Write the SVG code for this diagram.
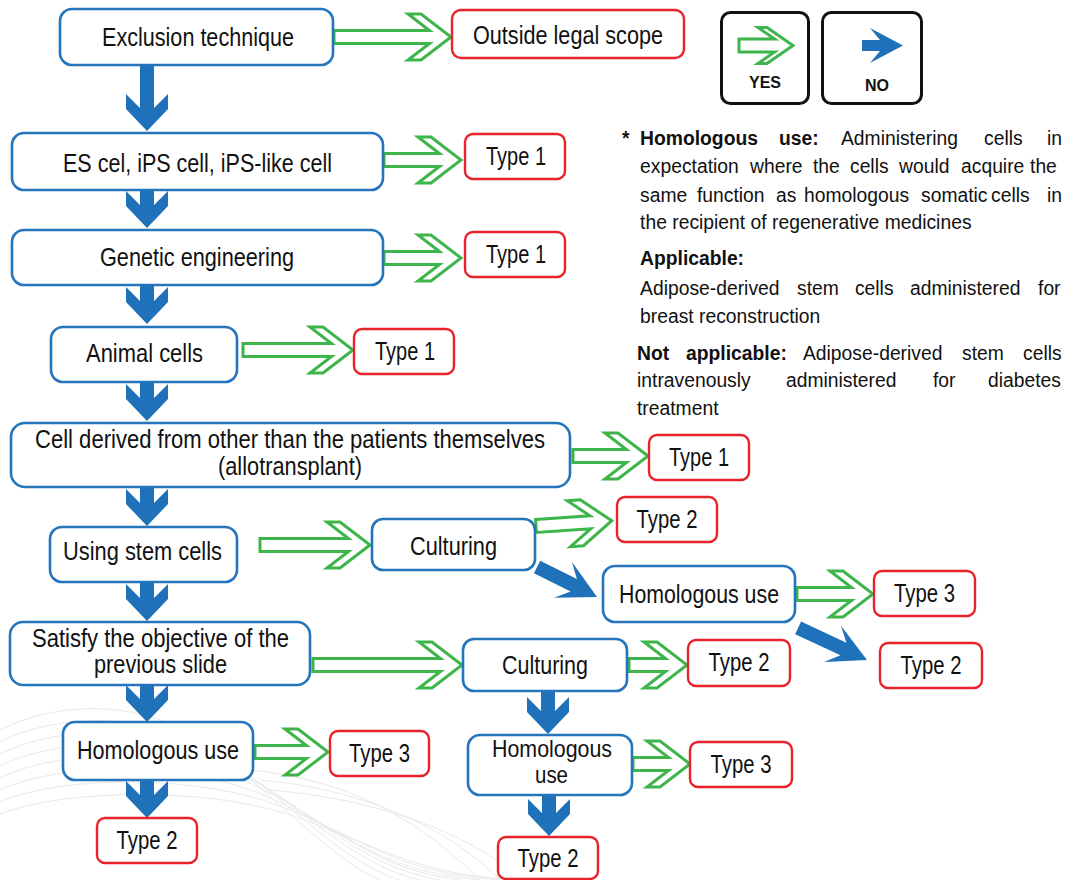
<svg xmlns="http://www.w3.org/2000/svg" width="1069" height="880" viewBox="0 0 1069 880">
<style>
.bg{fill:none;stroke:#e9e9e9;stroke-width:1}
.nb{fill:#fff;stroke:#2475bc;stroke-width:2.6}
.rb{fill:#fff;stroke:#e8232b;stroke-width:2.4}
.lg{fill:#fff;stroke:#111;stroke-width:3}
.t{font-family:"Liberation Sans",Arial,sans-serif;font-size:25px;fill:#111;text-anchor:middle}
.t2{font-size:24px}
.d{font-family:"Liberation Sans",Arial,sans-serif;font-size:21px;fill:#111}
.b{font-weight:bold}
.lt{font-family:"Liberation Sans",Arial,sans-serif;font-size:16px;font-weight:bold;fill:#111;text-anchor:middle}
.ga{fill:#fff;stroke:#3db54a;stroke-width:3;stroke-linejoin:miter}
.ba{fill:#1f72ba}
</style>
<g id="background">
<path class="bg" d="M0 730 C60 700 140 700 200 740 S330 860 380 880"/>
<path class="bg" d="M0 742 C60 712 150 712 215 752 S340 862 400 880"/>
<path class="bg" d="M0 754 C60 724 160 724 230 764 S350 864 420 880"/>
<path class="bg" d="M0 766 C60 736 170 736 245 776 S360 866 440 880"/>
<path class="bg" d="M0 778 C60 748 180 748 260 788 S370 868 460 880"/>
<path class="bg" d="M0 790 C60 762 190 760 275 800 S380 870 480 880"/>
<path class="bg" d="M0 802 C60 776 200 772 290 810 S400 872 500 880"/>
<path class="bg" d="M0 814 C60 790 210 784 305 820 S420 874 520 880"/>
<path class="bg" d="M250 770 C350 780 420 820 480 880"/>
<path class="bg" d="M260 780 C370 790 450 830 500 880"/>
<path class="bg" d="M270 790 C390 800 480 840 520 880"/>
</g>
<g id="connectors">
<polygon class="ga" points="334,30.5 429.5,30.5 408,14 421,14 451,37 421,60 408,60 429.5,43.5 334,43.5"/>
<polygon class="ga" points="384,153.5 439.5,153.5 418,137 431,137 461,160 431,183 418,183 439.5,166.5 384,166.5"/>
<polygon class="ga" points="384,251.5 439.5,251.5 418,235 431,235 461,258 431,281 418,281 439.5,264.5 384,264.5"/>
<polygon class="ga" points="243,343.5 331.5,343.5 310,327 323,327 353,350 323,373 310,373 331.5,356.5 243,356.5"/>
<polygon class="ga" points="573,449.5 626.5,449.5 605,433 618,433 648,456 618,479 605,479 626.5,462.5 573,462.5"/>
<polygon class="ga" points="260,538.5 348.5,538.5 327,522 340,522 370,545 340,568 327,568 348.5,551.5 260,551.5"/>
<polygon class="ga" transform="rotate(-4 536 526)" points="536,519.5 590.5,519.5 569,503 582,503 612,526 582,549 569,549 590.5,532.5 536,532.5"/>
<polygon class="ga" points="797,587.5 851.5,587.5 830,571 843,571 873,594 843,617 830,617 851.5,600.5 797,600.5"/>
<polygon class="ga" points="313,658.5 440.5,658.5 419,642 432,642 462,665 432,688 419,688 440.5,671.5 313,671.5"/>
<polygon class="ga" points="629,658.5 665.5,658.5 644,642 657,642 687,665 657,688 644,688 665.5,671.5 629,671.5"/>
<polygon class="ga" points="255,745.5 306.5,745.5 285,729 298,729 328,752 298,775 285,775 306.5,758.5 255,758.5"/>
<polygon class="ga" points="633,757.5 668.5,757.5 647,741 660,741 690,764 660,787 647,787 668.5,770.5 633,770.5"/>
<polygon class="ba" points="140,65 154,65 154,108 168,94 168,109 147,131 126,109 126,94 140,108"/>
<polygon class="ba" points="140,189 154,189 154,205 168,191 168,206 147,228 126,206 126,191 140,205"/>
<polygon class="ba" points="140,285 154,285 154,301 168,287 168,302 147,324 126,302 126,287 140,301"/>
<polygon class="ba" points="140,381 154,381 154,398 168,384 168,399 147,421 126,399 126,384 140,398"/>
<polygon class="ba" points="140,487 154,487 154,503 168,489 168,504 147,526 126,504 126,489 140,503"/>
<polygon class="ba" points="140,582 154,582 154,598 168,584 168,599 147,621 126,599 126,584 140,598"/>
<polygon class="ba" points="140,685 154,685 154,699 168,685 168,700 147,722 126,700 126,685 140,699"/>
<polygon class="ba" points="140,780 154,780 154,795 168,781 168,796 147,818 126,796 126,781 140,795"/>
<polygon class="ba" points="541,690 555,690 555,711 569,697 569,712 548,734 527,712 527,697 541,711"/>
<polygon class="ba" points="542,796 556,796 556,813 570,799 570,814 549,836 528,814 528,799 542,813"/>
<polygon class="ba" transform="translate(597 597) rotate(26.6)" points="-67,-7 -26,-7 -38,-20 0,0 -38,20 -26,7 -67,7"/>
<polygon class="ba" transform="translate(867 660) rotate(25)" points="-76,-7 -26,-7 -38,-20 0,0 -38,20 -26,7 -76,7"/>
</g>
<g id="legend">
<rect class="lg" x="721.5" y="12.5" width="87" height="91" rx="9"/>
<polygon class="ga" points="739,39 774.6,39 758,27.5 767,27.5 793,45.5 767,63.5 758,63.5 774.6,52 739,52"/>
<text class="lt" x="765" y="88">YES</text>
<rect class="lg" x="822.5" y="12.5" width="99" height="91" rx="9"/>
<polygon class="ba" points="862,40 880,40 870,28 903,45.5 870,63 880,51 862,51"/>
<text class="lt" x="877" y="91">NO</text>
</g>
<g id="n-exclusion"><rect class="nb" x="60" y="9" width="273" height="56" rx="12"/><text class="t" x="198" y="46" textLength="192" lengthAdjust="spacingAndGlyphs">Exclusion technique</text></g>
<g id="n-es"><rect class="nb" x="12" y="133" width="371" height="57" rx="12"/><text class="t" x="197.5" y="172" textLength="269" lengthAdjust="spacingAndGlyphs">ES cel, iPS cell, iPS-like cell</text></g>
<g id="n-genetic"><rect class="nb" x="12" y="230" width="371" height="55" rx="12"/><text class="t" x="197" y="266" textLength="194" lengthAdjust="spacingAndGlyphs">Genetic engineering</text></g>
<g id="n-animal"><rect class="nb" x="51" y="327" width="186" height="55" rx="12"/><text class="t" x="144.5" y="362" textLength="117" lengthAdjust="spacingAndGlyphs">Animal cells</text></g>
<g id="n-allo"><rect class="nb" x="11" y="423" width="559" height="64" rx="14"/><text class="t" x="290" y="448" textLength="510" lengthAdjust="spacingAndGlyphs">Cell derived from other than the patients themselves</text><text class="t" x="290" y="475" textLength="144" lengthAdjust="spacingAndGlyphs">(allotransplant)</text></g>
<g id="n-stem"><rect class="nb" x="50" y="527" width="187" height="55" rx="12"/><text class="t" x="142.5" y="560" textLength="159" lengthAdjust="spacingAndGlyphs">Using stem cells</text></g>
<g id="n-cult1"><rect class="nb" x="372" y="519" width="163" height="51" rx="11"/><text class="t" x="453.5" y="555" textLength="87" lengthAdjust="spacingAndGlyphs">Culturing</text></g>
<g id="n-homo1"><rect class="nb" x="603" y="566" width="192" height="56" rx="12"/><text class="t" x="699" y="603" textLength="160" lengthAdjust="spacingAndGlyphs">Homologous use</text></g>
<g id="n-satisfy"><rect class="nb" x="10" y="622" width="300" height="63" rx="13"/><text class="t" x="160.5" y="647" textLength="257" lengthAdjust="spacingAndGlyphs">Satisfy the objective of the</text><text class="t" x="160.5" y="673" textLength="133" lengthAdjust="spacingAndGlyphs">previous slide</text></g>
<g id="n-cult2"><rect class="nb" x="463" y="639" width="164" height="52" rx="11"/><text class="t" x="545" y="674" textLength="86" lengthAdjust="spacingAndGlyphs">Culturing</text></g>
<g id="n-homo2"><rect class="nb" x="63" y="722" width="190" height="58" rx="12"/><text class="t" x="158" y="759" textLength="162" lengthAdjust="spacingAndGlyphs">Homologous use</text></g>
<g id="n-homo3"><rect class="nb" x="468" y="735" width="164" height="60" rx="12"/><text class="t t2" x="552" y="757" textLength="120" lengthAdjust="spacingAndGlyphs">Homologous</text><text class="t t2" x="551.5" y="783" textLength="33" lengthAdjust="spacingAndGlyphs">use</text></g>
<g id="r-outside"><rect class="rb" x="452" y="10" width="232" height="48" rx="9"/><text class="t" x="568" y="44" textLength="190" lengthAdjust="spacingAndGlyphs">Outside legal scope</text></g>
<g id="r-t1a"><rect class="rb" x="465" y="134" width="100" height="45" rx="8"/><text class="t" x="516" y="165" textLength="60" lengthAdjust="spacingAndGlyphs">Type 1</text></g>
<g id="r-t1b"><rect class="rb" x="465" y="232" width="100" height="45" rx="8"/><text class="t" x="516" y="263" textLength="60" lengthAdjust="spacingAndGlyphs">Type 1</text></g>
<g id="r-t1c"><rect class="rb" x="354" y="329" width="100" height="45" rx="8"/><text class="t" x="405" y="360" textLength="60" lengthAdjust="spacingAndGlyphs">Type 1</text></g>
<g id="r-t1d"><rect class="rb" x="649" y="435" width="100" height="45" rx="8"/><text class="t" x="699" y="466" textLength="60" lengthAdjust="spacingAndGlyphs">Type 1</text></g>
<g id="r-t2a"><rect class="rb" x="617" y="497" width="100" height="45" rx="8"/><text class="t" x="667" y="528" textLength="61" lengthAdjust="spacingAndGlyphs">Type 2</text></g>
<g id="r-t3a"><rect class="rb" x="874" y="571" width="101" height="45" rx="8"/><text class="t" x="924.5" y="602" textLength="61" lengthAdjust="spacingAndGlyphs">Type 3</text></g>
<g id="r-t2b"><rect class="rb" x="688" y="640" width="102" height="46" rx="8"/><text class="t" x="739" y="671" textLength="61" lengthAdjust="spacingAndGlyphs">Type 2</text></g>
<g id="r-t2c"><rect class="rb" x="880" y="643" width="102" height="45" rx="8"/><text class="t" x="931" y="674" textLength="61" lengthAdjust="spacingAndGlyphs">Type 2</text></g>
<g id="r-t3b"><rect class="rb" x="330" y="731" width="99" height="45" rx="8"/><text class="t" x="379.5" y="762" textLength="61" lengthAdjust="spacingAndGlyphs">Type 3</text></g>
<g id="r-t3c"><rect class="rb" x="690" y="742" width="102" height="45" rx="8"/><text class="t" x="741" y="773" textLength="61" lengthAdjust="spacingAndGlyphs">Type 3</text></g>
<g id="r-t2d"><rect class="rb" x="97" y="818" width="100" height="45" rx="8"/><text class="t" x="147" y="849" textLength="61" lengthAdjust="spacingAndGlyphs">Type 2</text></g>
<g id="r-t2e"><rect class="rb" x="498" y="837" width="100" height="42" rx="8"/><text class="t" x="548" y="867" textLength="61" lengthAdjust="spacingAndGlyphs">Type 2</text></g>
<g id="note" transform="scale(0.92 1)">
<text class="d b" x="676.1" y="145">*</text>
<text class="d" y="145"><tspan class="b" x="695.7">Homologous</tspan><tspan class="b" x="846.7">use:</tspan><tspan x="914.1">Administering</tspan><tspan x="1069.6">cells</tspan><tspan x="1138">in</tspan></text>
<text class="d" y="173"><tspan x="695.7">expectation</tspan><tspan x="815.2">where</tspan><tspan x="883.7">the</tspan><tspan x="923.9">cells</tspan><tspan x="977.2">would</tspan><tspan x="1044.6">acquire</tspan><tspan x="1119.6">the</tspan></text>
<text class="d" y="202"><tspan x="695.7">same</tspan><tspan x="757.6">function</tspan><tspan x="843.5">as</tspan><tspan x="873.9">homologous</tspan><tspan x="1001.1">somatic</tspan><tspan x="1077.2">cells</tspan><tspan x="1138">in</tspan></text>
<text class="d" x="695.7" y="229">the recipient of regenerative medicines</text>
<text class="d b" x="695.7" y="265">Applicable:</text>
<text class="d" y="295"><tspan x="695.7">Adipose-derived</tspan><tspan x="866.3">stem</tspan><tspan x="929.3">cells</tspan><tspan x="989.1">administered</tspan><tspan x="1128.3">for</tspan></text>
<text class="d" x="695.7" y="323">breast reconstruction</text>
<text class="d" y="360"><tspan class="b" x="692.4">Not</tspan><tspan class="b" x="745.7">applicable:</tspan><tspan x="872.8">Adipose-derived</tspan><tspan x="1045.7">stem</tspan><tspan x="1112">cells</tspan></text>
<text class="d" y="387"><tspan x="692.4">intravenously</tspan><tspan x="854.3">administered</tspan><tspan x="1014.1">for</tspan><tspan x="1073.9">diabetes</tspan></text>
<text class="d" x="692.4" y="415">treatment</text>
</g>
</svg>
